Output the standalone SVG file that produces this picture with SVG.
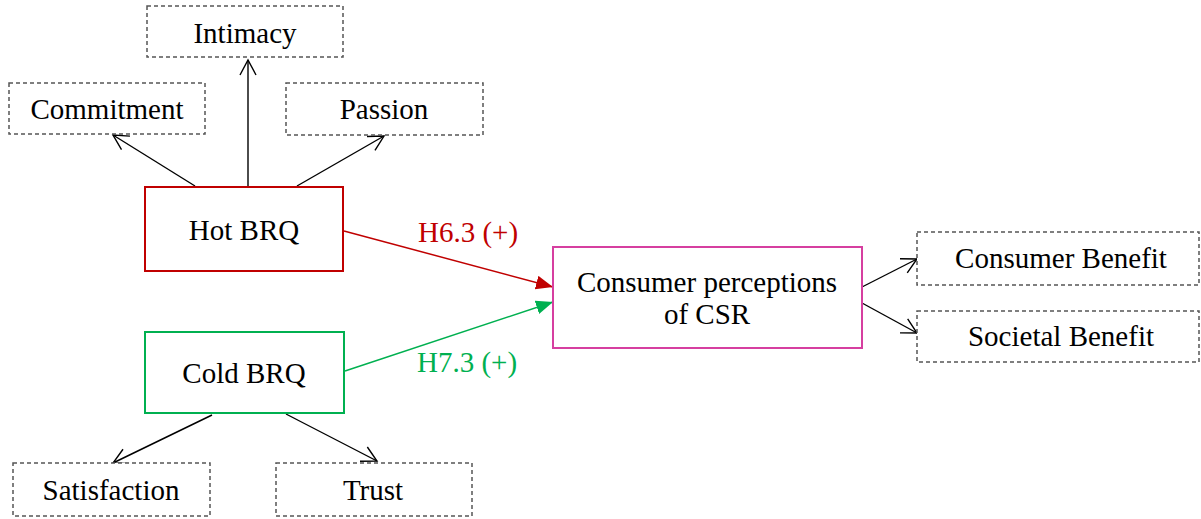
<svg xmlns="http://www.w3.org/2000/svg" width="1201" height="519" viewBox="0 0 1201 519">
<style>
  .t { font-family: "Liberation Serif", "Times New Roman", serif; font-size: 29px; fill: #000; text-anchor: middle; }
  .dash { fill: #fff; stroke: #555; stroke-width: 1.5; stroke-dasharray: 4 3; }
  .line { stroke: #000; stroke-width: 1.4; fill: none; marker-end: url(#open); }
  .lbl { font-family: "Liberation Serif", "Times New Roman", serif; font-size: 29px; text-anchor: middle; }
</style>
<defs>
  <marker id="open" markerUnits="userSpaceOnUse" markerWidth="20" markerHeight="20" refX="16" refY="9" orient="auto">
    <path d="M1,1 L16,9 L1,17" fill="none" stroke="#000" stroke-width="1.4"/>
  </marker>
  <marker id="redhead" markerUnits="userSpaceOnUse" markerWidth="20" markerHeight="16" refX="17" refY="7" orient="auto">
    <path d="M0,0 L17,7 L0,14 z" fill="#C00000"/>
  </marker>
  <marker id="greenhead" markerUnits="userSpaceOnUse" markerWidth="20" markerHeight="16" refX="17" refY="7" orient="auto">
    <path d="M0,0 L17,7 L0,14 z" fill="#00B050"/>
  </marker>
</defs>
<rect width="1201" height="519" fill="#fff"/>

<g id="connectors">
  <line class="line" x1="195" y1="186" x2="113" y2="135"/>
  <line class="line" x1="248" y1="186" x2="248" y2="60"/>
  <line class="line" x1="297" y1="186" x2="384" y2="136"/>
  <line class="line" x1="212" y1="415" x2="113" y2="463"/>
  <line class="line" x1="286" y1="414" x2="377" y2="461"/>
  <line class="line" x1="862" y1="287" x2="917" y2="259"/>
  <line class="line" x1="862" y1="303" x2="917" y2="333"/>
  <line x1="344" y1="231" x2="553" y2="287" stroke="#C00000" stroke-width="1.5" marker-end="url(#redhead)"/>
  <line x1="345" y1="371" x2="553" y2="302" stroke="#00B050" stroke-width="1.5" marker-end="url(#greenhead)"/>
  <text class="lbl" x="468" y="242" fill="#C00000">H6.3 (+)</text>
  <text class="lbl" x="467" y="372" fill="#00B050">H7.3 (+)</text>
</g>

<g id="intimacy">
  <rect class="dash" x="147" y="6" width="196" height="51"/>
  <text class="t" x="245" y="43">Intimacy</text>
</g>
<g id="commitment">
  <rect class="dash" x="9" y="83" width="196" height="51"/>
  <text class="t" x="107" y="119">Commitment</text>
</g>
<g id="passion">
  <rect class="dash" x="286" y="83" width="197" height="52"/>
  <text class="t" x="384" y="119">Passion</text>
</g>
<g id="hot-brq">
  <rect x="145" y="187" width="198" height="84" fill="#fff" stroke="#C00000" stroke-width="2"/>
  <text class="t" x="244" y="240">Hot BRQ</text>
</g>
<g id="cold-brq">
  <rect x="145" y="332" width="199" height="81" fill="#fff" stroke="#00B050" stroke-width="2"/>
  <text class="t" x="244" y="383">Cold BRQ</text>
</g>
<g id="csr">
  <rect x="553" y="247" width="309" height="101" fill="#fff" stroke="#D63FA0" stroke-width="2"/>
  <text class="t" x="707" y="292">Consumer perceptions</text>
  <text class="t" x="707" y="324">of CSR</text>
</g>
<g id="consumer-benefit">
  <rect class="dash" x="917" y="232" width="282" height="53"/>
  <text class="t" x="1061" y="268">Consumer Benefit</text>
</g>
<g id="societal-benefit">
  <rect class="dash" x="917" y="311" width="282" height="51"/>
  <text class="t" x="1061" y="346">Societal Benefit</text>
</g>
<g id="satisfaction">
  <rect class="dash" x="13" y="463" width="197" height="53"/>
  <text class="t" x="111" y="500">Satisfaction</text>
</g>
<g id="trust">
  <rect class="dash" x="276" y="463" width="196" height="53"/>
  <text class="t" x="373" y="500">Trust</text>
</g>
</svg>
